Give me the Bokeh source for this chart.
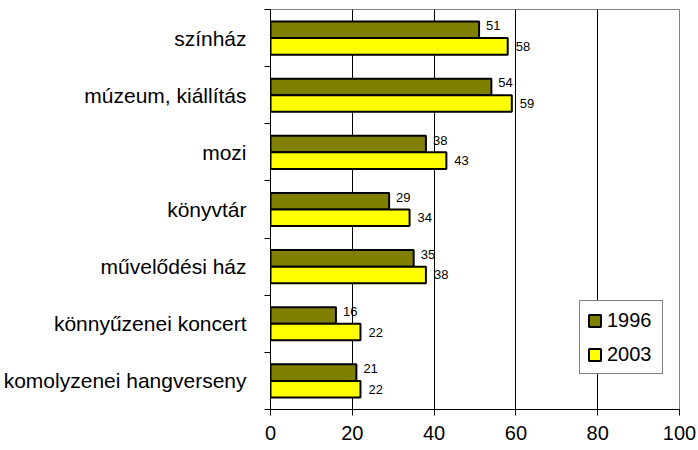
from bokeh.plotting import figure
from bokeh.models import ColumnDataSource, FixedTicker, Range1d, Legend, LegendItem
from bokeh.core.properties import value
from bokeh.embed import file_html
from bokeh.resources import INLINE

categories = ["színház", "múzeum, kiállítás", "mozi", "könyvtár",
              "művelődési ház", "könnyűzenei koncert", "komolyzenei hangverseny"]
v1996 = [51, 54, 38, 29, 35, 16, 21]
v2003 = [58, 59, 43, 34, 38, 22, 22]
x_ticks = [0, 20, 40, 60, 80, 100]
series_names = ["1996", "2003"]

FONT = "Liberation Sans"
n = len(categories)
centers = [n - 1 - i + 0.5 for i in range(n)]
bar_h = 0.29

src = ColumnDataSource(dict(
    cat=categories,
    y1=[c + bar_h / 2 for c in centers],
    y2=[c - bar_h / 2 for c in centers],
    v1=v1996,
    v2=v2003,
    t1=[str(v) for v in v1996],
    t2=[str(v) for v in v2003],
))

p = figure(width=698, height=450, output_backend="svg", toolbar_location=None,
           title=None,
           x_range=Range1d(0, 100), y_range=Range1d(0, n),
           min_border_left=270, min_border_right=19, min_border_top=9, min_border_bottom=41)

p.background_fill_color = "white"
p.border_fill_color = "white"
p.outline_line_color = "#808080"
p.outline_line_width = 1

r1 = p.hbar(y="y1", right="v1", left=0, height=bar_h, source=src,
            fill_color="#808000", line_color="black", line_width=2)
r2 = p.hbar(y="y2", right="v2", left=0, height=bar_h, source=src,
            fill_color="#FFFF00", line_color="black", line_width=2)

p.text(x="v1", y="y1", text="t1", source=src, x_offset=7, y_offset=-4,
       text_font=value(FONT), text_font_size="13px", text_color="black",
       text_align="left", text_baseline="middle")
p.text(x="v2", y="y2", text="t2", source=src, x_offset=8, y_offset=0,
       text_font=value(FONT), text_font_size="13px", text_color="black",
       text_align="left", text_baseline="middle")

# x axis
p.xaxis.ticker = FixedTicker(ticks=x_ticks)
p.xaxis.axis_line_color = "black"
p.xaxis.major_tick_line_color = "black"
p.xaxis.major_tick_out = 6
p.xaxis.major_tick_in = 0
p.xaxis.minor_tick_line_color = None
p.xaxis.major_label_text_font = FONT
p.xaxis.major_label_text_font_size = "20px"
p.xaxis.major_label_text_color = "black"
p.xaxis.major_label_standoff = 10

# y axis: labels at category centers, ticks at boundaries
p.yaxis.ticker = FixedTicker(ticks=centers, minor_ticks=list(range(n + 1)))
p.yaxis.major_label_overrides = {c: cat for c, cat in zip(centers, categories)}
p.yaxis.axis_line_color = "black"
p.yaxis.major_tick_out = 0
p.yaxis.major_tick_in = 0
p.yaxis.major_tick_line_color = None
p.yaxis.minor_tick_out = 6
p.yaxis.minor_tick_in = 0
p.yaxis.minor_tick_line_color = "black"
p.yaxis.major_label_text_font = FONT
p.yaxis.major_label_text_font_size = "21px"
p.yaxis.major_label_text_color = "black"
p.yaxis.major_label_standoff = 18

p.xgrid.ticker = FixedTicker(ticks=[20, 40, 60, 80])
p.xgrid.grid_line_color = "black"
p.xgrid.grid_line_width = 1
p.ygrid.grid_line_color = None

legend = Legend(items=[LegendItem(label=series_names[0], renderers=[r1]),
                       LegendItem(label=series_names[1], renderers=[r2])],
                location=(309, 35))
legend.label_text_font = FONT
legend.label_text_font_size = "20px"
legend.label_text_color = "black"
legend.glyph_width = 15
legend.glyph_height = 15
legend.label_standoff = 5
legend.label_width = 48
legend.label_height = 24
legend.spacing = 10
legend.padding = 7
legend.margin = 0
legend.border_line_color = "black"
legend.border_line_width = 1
legend.background_fill_color = "white"
legend.background_fill_alpha = 1
p.add_layout(legend, "center")

open("out.html", "w").write(file_html(p, INLINE))
